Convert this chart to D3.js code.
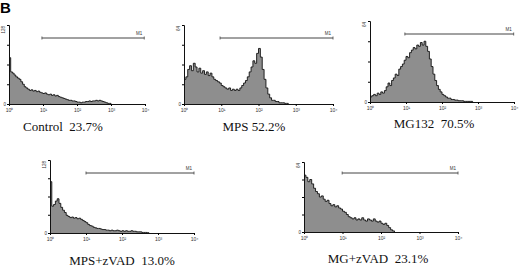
<!DOCTYPE html>
<html><head><meta charset="utf-8">
<script src="https://cdn.jsdelivr.net/npm/d3@7"></script>
<style>body{margin:0;background:#fff}svg{display:block}</style>
</head><body>
<script>
// bin width in decades (log10 units), bins start at 10^0
const binStep = 0.05;
const decadeTicks = [1, 10, 100, 1000, 10000];
const tickLabels = ["10\u2070", "10\u00b9", "10\u00b2", "10\u00b3", "10\u2074"];
const panelNames = ["Control", "MPS", "MG132", "MPS+zVAD", "MG+zVAD"];
const percents = ["23.7%", "52.2%", "70.5%", "13.0%", "23.1%"];
const yMaxes = [128, 64, 64, 128, 64];
const m1Ranges = [[9.3, 9500], [9.3, 10000], [9.3, 9800], [10, 10000], [9.8, 10000]];

const controlCounts = [75,52,50,47,44,42,40,36,32,28,26,24,22,23,21,22,20,21,19,18,17,18,16,15,16,14,15,13,14,12,11,10,9,8,7,6,6,5,5,4,3,3,2,3,3,4,4,5,4,5,5,6,5,6,5,4,3,2,1,1,0];
const mpsCounts = [20,22,28,31,27,33,30,26,29,25,27,24,26,23,25,22,20,19,18,17,15,14,13,12,13,11,12,11,12,11,13,15,17,19,22,26,30,35,33,41,45,38,28,20,13,8,5,3,3,2,2,1,1,1,0.5,0.5,0];
const mg132Counts = [4,5,6,5,7,6,8,7,9,12,15,13,17,19,22,21,26,28,30,33,36,35,39,41,43,42,45,44,47,45,48,44,40,34,28,22,17,13,10,8,6,5,4,3,3,2,2,1.5,1.5,1,1,1,0.5,0.5,0.5,0.5,0.5,0];
const mpsZvadCounts = [90,47,50,56,60,52,45,40,36,31,29,27,28,26,27,25,26,24,22,20,18,15,13,12,10,9,8,8,7,6,6,5,5,4,5,4,4,5,4,3,4,3,4,3,3,4,3,3,2,2,2,1,1,1,0.5,0];
const mgZvadCounts = [52,50,46,48,44,40,37,35,32,33,30,28,29,26,24,25,23,24,22,21,19,18,16,14,13,12,13,11,12,11,13,11,10,12,11,10,12,10,9,10,8,7,8,6,4,2,1,0];
const seriesList = [controlCounts, mpsCounts, mg132Counts, mpsZvadCounts, mgZvadCounts];

// layout (pixels)
const frames = [
  {x0: 9,   x1: 145, yTop: 25,  yBot: 104, m1y: 38,  capX: 63,  capY: 131, cap: "Control  23.7%"},
  {x0: 184, x1: 333, yTop: 25,  yBot: 104, m1y: 38,  capX: 254, capY: 131, cap: "MPS 52.2%"},
  {x0: 370, x1: 514, yTop: 21,  yBot: 102, m1y: 34,  capX: 434, capY: 128, cap: "MG132  70.5%"},
  {x0: 50,  x1: 194, yTop: 160, yBot: 233, m1y: 173, capX: 122, capY: 265, cap: "MPS+zVAD  13.0%"},
  {x0: 304, x1: 458, yTop: 162, yBot: 232, m1y: 173, capX: 378, capY: 263, cap: "MG+zVAD  23.1%"}
];

const svg = d3.select("body").append("svg").attr("width", 520).attr("height", 267);

svg.append("text").attr("x", 0).attr("y", 13)
  .attr("font-family", "Liberation Sans, Arial, sans-serif").attr("font-weight", "bold")
  .attr("font-size", 15).text("B");

frames.forEach((f, p) => {
  const counts = seriesList[p];
  const x = d3.scaleLog().domain([1, 10000]).range([f.x0, f.x1]);
  const y = d3.scaleLinear().domain([0, yMaxes[p]]).range([f.yBot, f.yTop]);
  const g = svg.append("g");
  const pts = counts.map((c, i) => ({pos: Math.pow(10, i * binStep), c}));

  const area = d3.area().x(d => x(d.pos)).y0(f.yBot).y1(d => y(d.c)).curve(d3.curveStepAfter);
  const line = d3.line().x(d => x(d.pos)).y(d => y(d.c)).curve(d3.curveStepAfter);
  g.append("path").datum(pts).attr("d", area).attr("fill", "#8e8e8e");
  g.append("path").datum(pts).attr("d", line).attr("fill", "none")
    .attr("stroke", "#111").attr("stroke-width", 0.9);

  // x axis
  const xa = d3.axisBottom(x).tickValues(decadeTicks).tickSize(2)
    .tickFormat((d, i) => tickLabels[i]);
  const xg = g.append("g").attr("transform", `translate(0,${f.yBot})`).call(xa);
  xg.select(".domain").attr("stroke", "#111").attr("stroke-width", 1);
  xg.selectAll("text").attr("font-size", 5).attr("dy", "0.5em")
    .attr("font-family", "Liberation Sans, Arial, sans-serif").attr("fill", "#333");

  // y axis
  const ya = d3.axisLeft(y).tickValues(d3.range(0, yMaxes[p] + 1, yMaxes[p] / 4)).tickSize(2).tickFormat("");
  const yg = g.append("g").attr("transform", `translate(${f.x0},0)`).call(ya);
  yg.select(".domain").attr("stroke", "#111").attr("stroke-width", 1);
  g.append("text").attr("transform", `translate(${f.x0 - 4},${f.yTop + 1}) rotate(-90)`)
    .attr("font-size", 4.5).attr("text-anchor", "end").attr("fill", "#333")
    .attr("font-family", "Liberation Sans, Arial, sans-serif").text(yMaxes[p]);
  g.append("text").attr("x", f.x0 - 3).attr("y", f.yBot + 1.5)
    .attr("font-size", 4.5).attr("text-anchor", "end").attr("fill", "#333")
    .attr("font-family", "Liberation Sans, Arial, sans-serif").text("0");

  // M1 marker
  const [ma, mb] = m1Ranges[p];
  g.append("line").attr("x1", x(ma)).attr("x2", x(mb)).attr("y1", f.m1y).attr("y2", f.m1y)
    .attr("stroke", "#444").attr("stroke-width", 1);
  [ma, mb].forEach(v => g.append("line").attr("x1", x(v)).attr("x2", x(v))
    .attr("y1", f.m1y - 1.5).attr("y2", f.m1y + 1.5).attr("stroke", "#444").attr("stroke-width", 0.8));
  g.append("text").attr("x", x(mb) - 2).attr("y", f.m1y - 3).attr("text-anchor", "end")
    .attr("font-size", 4.5).attr("fill", "#333")
    .attr("font-family", "Liberation Sans, Arial, sans-serif").text("M1");

  // caption
  svg.append("text").attr("x", f.capX).attr("y", f.capY).attr("text-anchor", "middle")
    .attr("font-family", "Liberation Serif, Times New Roman, serif").attr("font-size", 13)
    .style("white-space", "pre").attr("fill", "#111").text(f.cap);
});
</script>
</body></html>
